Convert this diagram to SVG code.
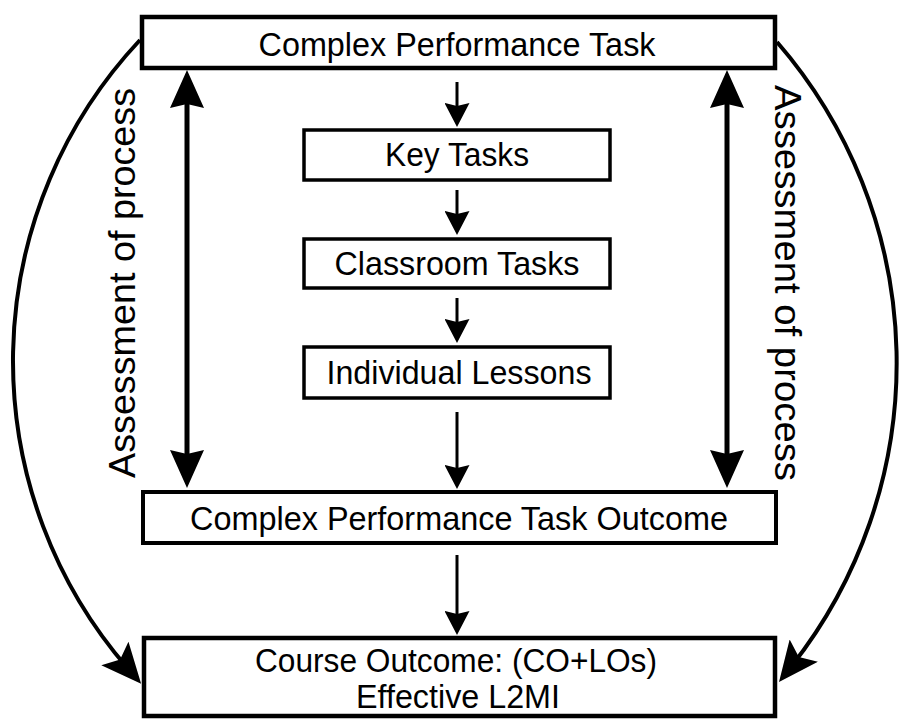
<svg xmlns="http://www.w3.org/2000/svg" width="900" height="719" viewBox="0 0 900 719">
<style>
.box{fill:#fff;stroke:#000}
.lbl{font-family:"Liberation Sans",Arial,Helvetica,sans-serif;fill:#000;text-anchor:middle;font-size:33px}
.side{font-size:37px}
.conn{fill:none;stroke:#000}
</style>
<defs>
<marker id="bigHead" markerUnits="userSpaceOnUse" markerWidth="38" markerHeight="34" viewBox="0 0 38 34" refX="8" refY="17" orient="auto-start-reverse">
<path d="M0,0 L38,17 L0,34 L4,17 z" fill="#000"/>
</marker>
<marker id="smallHead" markerUnits="userSpaceOnUse" markerWidth="24" markerHeight="25" viewBox="0 0 24 25" refX="5" refY="12.5" orient="auto">
<path d="M0,0 L24,12.5 L0,25 L3,12.5 z" fill="#000"/>
</marker>
<marker id="curveHead" markerUnits="userSpaceOnUse" markerWidth="40" markerHeight="36" viewBox="0 0 40 36" refX="20" refY="18" orient="auto">
<path d="M0,0 L40,18 L0,36 L8,18 z" fill="#000"/>
</marker>
</defs>

<g id="connectors">
<path class="conn" stroke-width="4" d="M140,40 A469,469 0 0 0 128,668.6" marker-end="url(#curveHead)"/>
<path class="conn" stroke-width="4" d="M777,42 A490,490 0 0 1 791.4,666.3" marker-end="url(#curveHead)"/>
<line class="conn" stroke-width="5" x1="187" y1="100" x2="187" y2="458" marker-start="url(#bigHead)" marker-end="url(#bigHead)"/>
<line class="conn" stroke-width="5" x1="727" y1="100" x2="727" y2="458" marker-start="url(#bigHead)" marker-end="url(#bigHead)"/>
<line class="conn" stroke-width="3" x1="457" y1="82" x2="457" y2="108" marker-end="url(#smallHead)"/>
<line class="conn" stroke-width="3" x1="457" y1="190" x2="457" y2="216" marker-end="url(#smallHead)"/>
<line class="conn" stroke-width="3" x1="457" y1="298" x2="457" y2="324" marker-end="url(#smallHead)"/>
<line class="conn" stroke-width="3" x1="457" y1="412" x2="457" y2="470" marker-end="url(#smallHead)"/>
<line class="conn" stroke-width="3" x1="457" y1="555" x2="457" y2="616" marker-end="url(#smallHead)"/>
</g>

<g id="label-left">
<text class="lbl side" transform="translate(135,283) rotate(-90)" textLength="390" lengthAdjust="spacingAndGlyphs">Assessment of process</text>
</g>
<g id="label-right">
<text class="lbl side" transform="translate(775,283) rotate(90)" textLength="396" lengthAdjust="spacingAndGlyphs">Assessment of process</text>
</g>

<g id="complex-performance-task">
<rect class="box" stroke-width="4.5" x="142" y="17" width="633" height="51"/>
<text class="lbl" x="457" y="56" textLength="397" lengthAdjust="spacingAndGlyphs">Complex Performance Task</text>
</g>
<g id="key-tasks">
<rect class="box" stroke-width="3.5" x="304" y="130" width="306" height="50"/>
<text class="lbl" x="457" y="166" textLength="144" lengthAdjust="spacingAndGlyphs">Key Tasks</text>
</g>
<g id="classroom-tasks">
<rect class="box" stroke-width="3.5" x="304" y="239" width="306" height="49"/>
<text class="lbl" x="457" y="275" textLength="245" lengthAdjust="spacingAndGlyphs">Classroom Tasks</text>
</g>
<g id="individual-lessons">
<rect class="box" stroke-width="3.5" x="304" y="347" width="306" height="51"/>
<text class="lbl" x="459" y="384" textLength="265" lengthAdjust="spacingAndGlyphs">Individual Lessons</text>
</g>
<g id="cpt-outcome">
<rect class="box" stroke-width="4" x="143" y="492" width="633" height="51"/>
<text class="lbl" x="459" y="530" textLength="538" lengthAdjust="spacingAndGlyphs">Complex Performance Task Outcome</text>
</g>
<g id="course-outcome">
<rect class="box" stroke-width="4.5" x="144" y="638" width="631" height="78"/>
<text class="lbl" x="456" y="672" textLength="402" lengthAdjust="spacingAndGlyphs">Course Outcome: (CO+LOs)</text>
<text class="lbl" x="458" y="708" textLength="204" lengthAdjust="spacingAndGlyphs">Effective L2MI</text>
</g>
</svg>
